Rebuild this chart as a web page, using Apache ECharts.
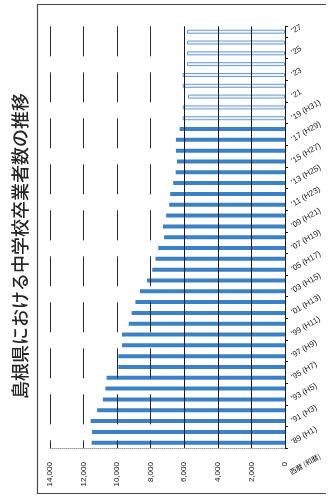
<!DOCTYPE html>
<html>
<head>
<meta charset="utf-8">
<script src="https://cdn.jsdelivr.net/npm/echarts@6/dist/echarts.min.js"></script>
<style>
  html, body { margin: 0; padding: 0; background: #ffffff; }
  #chart { width: 332px; height: 500px; }
</style>
</head>
<body>
<div id="chart"></div>
<script>
// School years, oldest first ('89 = Heisei 1)
const categories = [
  "'89 (H1)", "'90 (H2)", "'91 (H3)", "'92 (H4)", "'93 (H5)", "'94 (H6)", "'95 (H7)",
  "'96 (H8)", "'97 (H9)", "'98 (H10)", "'99 (H11)", "'00 (H12)", "'01 (H13)", "'02 (H14)",
  "'03 (H15)", "'04 (H16)", "'05 (H17)", "'06 (H18)", "'07 (H19)", "'08 (H20)", "'09 (H21)",
  "'10 (H22)", "'11 (H23)", "'12 (H24)", "'13 (H25)", "'14 (H26)", "'15 (H27)", "'16 (H28)",
  "'17 (H29)", "'18 (H30)", "'19 (H31)", "'20", "'21", "'22", "'23", "'24", "'25", "'26", "'27"
];

// Junior high school graduates, actual counts 1989-2018
const actualGraduates = [
  11520, 11500, 11580, 11190, 10850, 10700, 10630, 9930, 9930, 9710,
  9710, 9310, 9140, 8910, 8640, 8220, 7910, 7720, 7550, 7200,
  7270, 7080, 6900, 6840, 6660, 6510, 6440, 6500, 6500, 6280
];

// Projected graduates 2019-2027
const projectedGraduates = [6100, 6100, 5780, 6100, 6100, 5840, 5840, 5840, 5840];

// Value axis ticks
const valueTicks = [0, 2000, 4000, 6000, 8000, 10000, 12000, 14000];

const titleText = '島根県における中学校卒業者数の推移';
const categoryAxisName = '西暦 (和暦)';

const nulls = n => new Array(n).fill(null);
const actualSeries = actualGraduates.concat(nulls(projectedGraduates.length));
const projectedSeries = nulls(actualGraduates.length).concat(projectedGraduates);

const tickStep = valueTicks[1] - valueTicks[0];
const nearLines = valueTicks.map(v => (v > 0 && v <= 6000) ? '#1a1a1a' : 'transparent');
const farLines = valueTicks.map(v => v > 6000 ? '#2a2a2a' : 'transparent');

const chart = echarts.init(document.getElementById('chart'), null, { renderer: 'canvas' });

const baseFont = 'Liberation Sans, Arial, sans-serif';

chart.setOption({
  backgroundColor: '#ffffff',
  animation: false,
  grid: { left: 50, right: 47, top: 26.3, bottom: 51.9, containLabel: false },
  graphic: [
    {
      type: 'polyline',
      shape: { points: [[326, 4.5], [37.5, 4.5], [37.5, 493.5], [326, 493.5]] },
      style: { stroke: '#4a4a4a', lineWidth: 1.2, fill: null },
      silent: true
    },
    {
      type: 'text',
      x: 20,
      y: 246,
      rotation: Math.PI / 2,
      style: {
        text: titleText,
        font: '500 18px "Noto Sans CJK JP", sans-serif',
        fill: '#262626',
        textAlign: 'center',
        textVerticalAlign: 'middle'
      },
      silent: true
    }
  ],
  xAxis: [
    {
      type: 'value',
      position: 'bottom',
      inverse: true,
      min: valueTicks[0],
      max: valueTicks[valueTicks.length - 1],
      interval: tickStep,
      z: 3,
      axisLine: { show: true, lineStyle: { color: '#9a9a9a', type: 'dotted', width: 1 } },
      axisTick: { show: false },
      axisLabel: {
        rotate: 90,
        margin: 14,
        fontSize: 8,
        fontFamily: baseFont,
        color: '#161616',
        formatter: v => v.toLocaleString('en-US')
      },
      splitLine: { show: true, lineStyle: { color: nearLines, width: 1 } }
    },
    {
      type: 'value',
      position: 'bottom',
      inverse: true,
      min: valueTicks[0],
      max: valueTicks[valueTicks.length - 1],
      interval: tickStep,
      z: 3,
      axisLine: { show: false },
      axisTick: { show: false },
      axisLabel: { show: false },
      splitLine: { show: true, lineStyle: { color: farLines, width: 1, type: [30, 16] } }
    }
  ],
  yAxis: {
    type: 'category',
    position: 'right',
    data: categories,
    z: 3,
    axisLine: { show: true, lineStyle: { color: '#1a1a1a', width: 1 } },
    axisTick: { show: true, inside: false, length: 3, interval: 1, lineStyle: { color: '#1a1a1a' } },
    axisLabel: {
      interval: 1,
      rotate: 30,
      margin: 7,
      fontSize: 8,
      fontFamily: baseFont,
      color: '#161616'
    },
    name: categoryAxisName,
    nameLocation: 'start',
    nameGap: 13,
    nameRotate: 30,
    nameTextStyle: {
      fontSize: 7,
      fontFamily: '"Noto Sans CJK JP", sans-serif',
      color: '#161616',
      align: 'left',
      verticalAlign: 'middle',
      padding: [0, 0, 0, 6]
    }
  },
  series: [
    {
      name: '卒業者数',
      type: 'bar',
      data: actualSeries,
      barWidth: 4,
      barGap: '-100%',
      itemStyle: { color: '#3c80c5' }
    },
    {
      name: '推計',
      type: 'bar',
      data: projectedSeries,
      barWidth: 4,
      barGap: '-100%',
      itemStyle: { color: '#eef4fb', borderColor: '#6b9bd2', borderWidth: 1 }
    }
  ]
});
</script>
</body>
</html>
